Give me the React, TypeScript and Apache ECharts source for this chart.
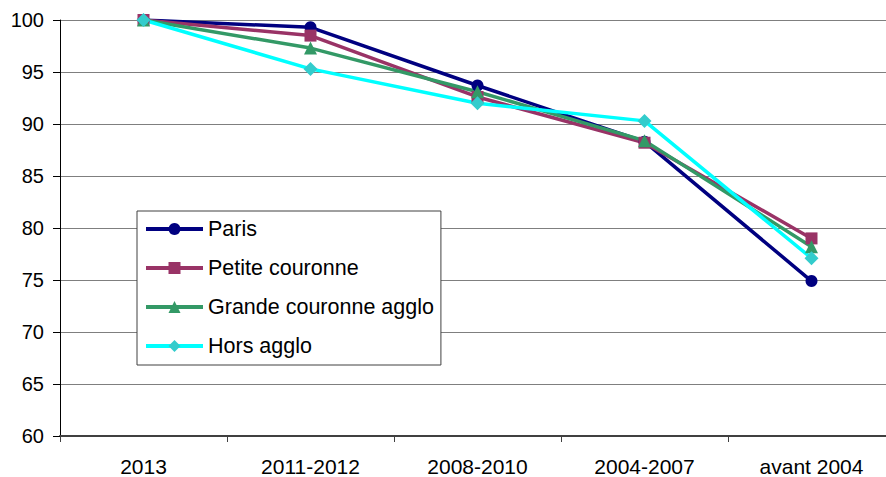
import React, { useEffect, useRef } from "react";
import * as echarts from "echarts";

const categories = ["2013", "2011-2012", "2008-2010", "2004-2007", "avant 2004"];
const paris = [100, 99.3, 93.7, 88.3, 74.9];
const petiteCouronne = [100, 98.5, 92.6, 88.2, 79.0];
const grandeCouronne = [100, 97.3, 93.1, 88.4, 78.2];
const horsAgglo = [100, 95.3, 92.0, 90.3, 77.1];

const FONT = "'Liberation Sans', Arial, sans-serif";

export default function App() {
  const ref = useRef<HTMLDivElement>(null);
  useEffect(() => {
    if (!ref.current) return;
    const chart = echarts.init(ref.current, undefined, { renderer: "svg" });
    const mk = (name: string, data: number[], symbol: string, lineColor: string, markColor: string, size: number) => ({
      name,
      type: "line",
      data,
      symbol,
      symbolSize: size,
      showAllSymbol: true,
      lineStyle: { color: lineColor, width: 3.5 },
      itemStyle: { color: markColor },
      emphasis: { disabled: true },
    });
    chart.setOption({
      animation: false,
      backgroundColor: "#ffffff",
      textStyle: { fontFamily: FONT },
      grid: { left: 60, top: 20, right: 0, bottom: 40, containLabel: false },
      legend: {
        orient: "vertical",
        left: 137,
        top: 211,
        padding: [7, 7, 8, 7],
        itemWidth: 57,
        itemHeight: 15,
        itemGap: 17,
        borderColor: "#404040",
        borderWidth: 1,
        backgroundColor: "#ffffff",
        lineStyle: { width: 4 },
        textStyle: { fontSize: 21.5, color: "#000", fontFamily: FONT },
        data: ["Paris", "Petite couronne", "Grande couronne agglo", "Hors agglo"],
      },
      xAxis: {
        type: "category",
        data: categories,
        boundaryGap: true,
        axisLine: { lineStyle: { color: "#404040", width: 2 } },
        axisTick: { show: true, length: 6, lineStyle: { color: "#404040", width: 1 } },
        axisLabel: { fontSize: 21, color: "#000", margin: 20, fontFamily: FONT },
        splitLine: { show: false },
      },
      yAxis: {
        type: "value",
        min: 60,
        max: 100,
        interval: 5,
        axisLine: { show: true, lineStyle: { color: "#000", width: 1 } },
        axisTick: { show: true, length: 7, lineStyle: { color: "#000" } },
        axisLabel: { fontSize: 20, color: "#000", margin: 16, fontFamily: FONT },
        splitLine: { show: true, lineStyle: { color: "#7f7f7f", width: 1 } },
      },
      series: [
        mk("Paris", paris, "circle", "#000080", "#000080", 12),
        mk("Petite couronne", petiteCouronne, "rect", "#993366", "#993366", 12),
        mk("Grande couronne agglo", grandeCouronne, "triangle", "#339966", "#339966", 13),
        mk("Hors agglo", horsAgglo, "diamond", "#00FFFF", "#33CCCC", 14),
      ],
    });
    return () => chart.dispose();
  }, []);
  return (
    <div
      style={{ position: "fixed", left: 0, top: 0, width: 886, height: 477, overflow: "hidden", background: "#fff" }}
    >
      <div ref={ref} style={{ width: 895, height: 477 }} />
    </div>
  );
}
